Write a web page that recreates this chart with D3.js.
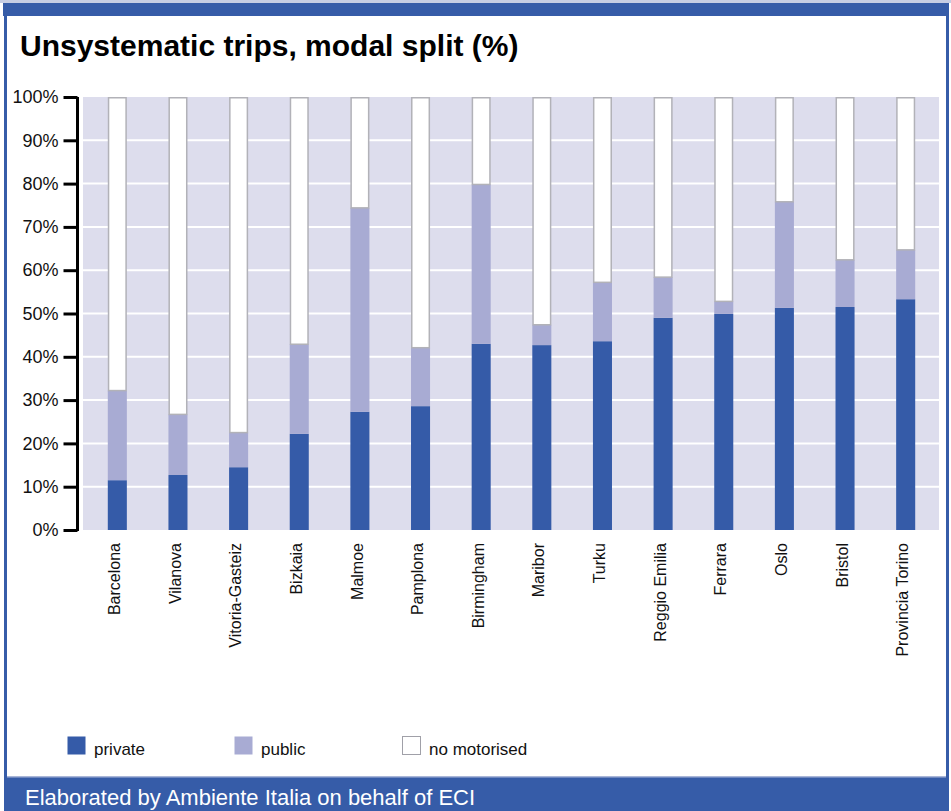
<!DOCTYPE html>
<html>
<head>
<meta charset="utf-8">
<script src="https://cdn.jsdelivr.net/npm/d3@7"></script>
<style>
  html, body { margin: 0; padding: 0; background: #ffffff; }
  svg { display: block; }
  text { font-family: "Liberation Sans", Arial, sans-serif; }
</style>
</head>
<body>
<svg id="chart" width="951" height="811"></svg>
<script>
// ---- data ----
const categories = ["Barcelona", "Vilanova", "Vitoria-Gasteiz", "Bizkaia", "Malmoe", "Pamplona",
  "Birmingham", "Maribor", "Turku", "Reggio Emilia", "Ferrara", "Oslo", "Bristol", "Provincia Torino"];
const privateShare = [11.5, 12.7, 14.5, 22.2, 27.3, 28.6, 43.0, 42.7, 43.6, 49.0, 49.9, 51.3, 51.5, 53.3];
const publicShare  = [20.7, 14.0, 8.0, 20.7, 47.1, 13.5, 36.8, 4.7, 13.6, 9.4, 2.9, 24.5, 10.9, 11.4];
const noMotorisedShare = [67.8, 73.3, 77.5, 57.1, 25.6, 57.9, 20.2, 52.6, 42.8, 41.6, 47.2, 24.2, 37.6, 35.3];
const seriesNames = ["private", "public", "no motorised"];
const yTicks = [0, 10, 20, 30, 40, 50, 60, 70, 80, 90, 100];
const titleText = "Unsystematic trips, modal split (%)";
const footerText = "Elaborated by Ambiente Italia on behalf of ECI";

// ---- styles ----
const blue = "#365ca8";
const colors = { "private": "#355ba8", "public": "#a8abd3", "no motorised": "#ffffff" };

const svg = d3.select("#chart");

// frame
svg.append("rect").attr("x", 0).attr("y", 0).attr("width", 951).attr("height", 3).attr("fill", "#c6cde3");
svg.append("rect").attr("x", 3).attr("y", 3).attr("width", 946).attr("height", 13).attr("fill", blue);
svg.append("rect").attr("x", 4).attr("y", 3).attr("width", 3).attr("height", 790).attr("fill", blue);
svg.append("rect").attr("x", 946).attr("y", 3).attr("width", 3).attr("height", 790).attr("fill", blue);
svg.append("rect").attr("x", 4).attr("y", 777).attr("width", 945).attr("height", 34).attr("fill", blue);
svg.append("rect").attr("x", 7).attr("y", 776).attr("width", 939).attr("height", 1.5).attr("fill", "#a9b6d8");

// title
svg.append("text").attr("x", 20).attr("y", 56)
  .attr("font-size", 30).attr("font-weight", "bold").attr("fill", "#000")
  .text(titleText);

// footer
svg.append("text").attr("x", 25).attr("y", 805)
  .attr("font-size", 22).attr("fill", "#ffffff")
  .text(footerText);

// scales
const x = d3.scaleBand().domain(categories).range([87, 936]).paddingInner(0.686).paddingOuter(0.343);
const y = d3.scaleLinear().domain([0, 100]).range([530, 97]);

// plot background
svg.append("rect").attr("x", 83).attr("y", y(100)).attr("width", 939 - 83).attr("height", y(0) - y(100))
  .attr("fill", "#dddded");

// gridlines
svg.append("g").selectAll("line").data(yTicks.filter(t => t > 0 && t < 100)).join("line")
  .attr("x1", 83).attr("x2", 939)
  .attr("y1", d => y(d)).attr("y2", d => y(d))
  .attr("stroke", "#ffffff").attr("stroke-width", 2);

// stacked data
const rows = categories.map((c, i) => ({
  city: c,
  "private": privateShare[i],
  "public": publicShare[i],
  "no motorised": noMotorisedShare[i]
}));
const stacked = d3.stack().keys(seriesNames)(rows);

const layers = svg.append("g").selectAll("g").data(stacked).join("g");
layers.each(function(layer) {
  const key = layer.key;
  d3.select(this).selectAll("rect").data(layer).join("rect")
    .attr("x", d => key === "no motorised" ? x(d.data.city) + 0.75 : x(d.data.city))
    .attr("width", d => key === "no motorised" ? x.bandwidth() - 1.5 : x.bandwidth())
    .attr("y", d => key === "no motorised" ? y(Math.min(d[1], 100)) + 0.75 : y(d[1]))
    .attr("height", d => key === "no motorised" ? y(d[0]) - y(Math.min(d[1], 100)) - 0.75 : y(d[0]) - y(d[1]))
    .attr("fill", colors[key])
    .attr("stroke", key === "no motorised" ? "#b2b2b8" : "none")
    .attr("stroke-width", 1.5);
});

// y axis
const yAxis = d3.axisLeft(y).tickValues(yTicks).tickFormat(d => d + "%").tickSize(14).tickPadding(5);
const gy = svg.append("g").attr("transform", "translate(77.5,0)").call(yAxis);
gy.select(".domain").attr("stroke", "#000").attr("stroke-width", 3).attr("d", `M0,${y(100)}V${y(0) + 1}`);
gy.selectAll(".tick line").attr("stroke", "#000").attr("stroke-width", 3);
gy.selectAll(".tick text").attr("font-size", 18).attr("fill", "#111")
  .attr("font-family", "'Liberation Sans', Arial, sans-serif");

// x axis labels
const xAxis = d3.axisBottom(x).tickSize(0).tickPadding(0);
const gx = svg.append("g").attr("transform", `translate(0,${y(0)})`).call(xAxis);
gx.select(".domain").remove();
gx.selectAll(".tick text")
  .attr("font-size", 16).attr("fill", "#111")
  .attr("font-family", "'Liberation Sans', Arial, sans-serif")
  .attr("text-anchor", "end")
  .attr("transform", "rotate(-90)")
  .attr("x", -13).attr("y", -3).attr("dy", "0.35em");

// legend
const legendX = [67, 234, 402];
const lg = svg.append("g").selectAll("g").data(seriesNames).join("g")
  .attr("transform", (d, i) => `translate(${legendX[i]},736)`);
lg.append("rect").attr("x", 0.5).attr("y", 0.5).attr("width", 18).attr("height", 18)
  .attr("fill", d => colors[d])
  .attr("stroke", d => d === "no motorised" ? "#a0a0a8" : "none").attr("stroke-width", 1);
lg.append("text").attr("x", 27).attr("y", 19).attr("font-size", 17).attr("fill", "#111").text(d => d);
</script>
</body>
</html>
